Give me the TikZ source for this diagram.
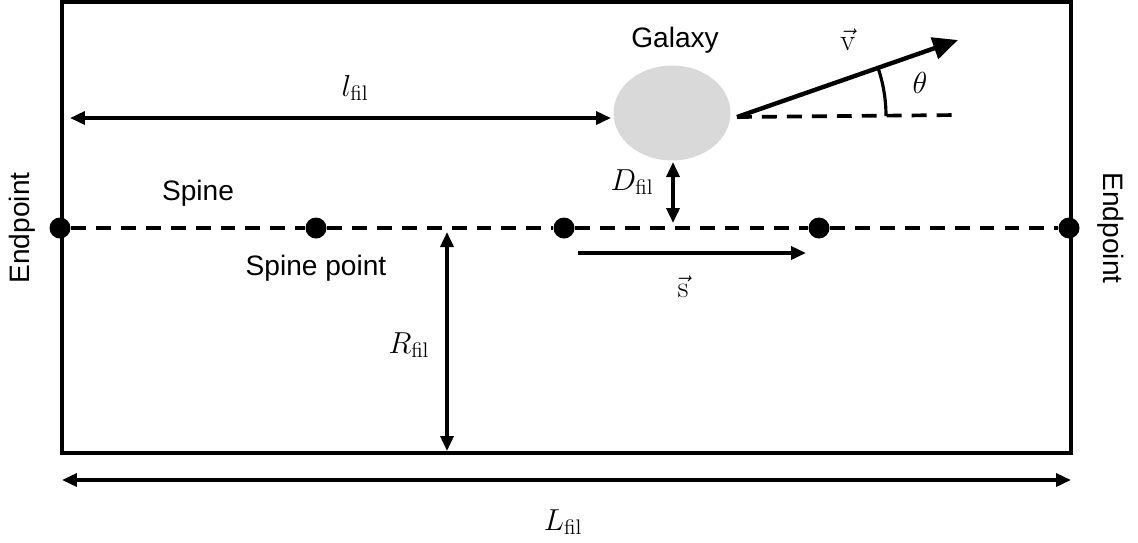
\documentclass[tikz,border=0pt]{standalone}
\usepackage[no-math]{fontspec}
\setmainfont{Liberation Sans}
\usetikzlibrary{arrows.meta,calc,positioning,shapes.geometric}
\definecolor{Ink}{HTML}{000000}
\definecolor{Cloud}{HTML}{D9D9D9}
\tikzset{
  spinept/.style={
    circle, fill=Ink, minimum size=0.42cm, inner sep=0pt
  },
  galaxy/.style={
    ellipse, fill=Cloud, minimum width=2.34cm, minimum height=1.9cm,
    inner sep=0pt
  },
  txt/.style={font=\fontsize{16}{18}\selectfont, inner sep=1pt},
  mlbl/.style={font=\fontsize{18}{20}\selectfont, inner sep=1pt},
  measure/.style={{Triangle[length=3mm,width=2.6mm]}-{Triangle[length=3mm,width=2.6mm]},
    line width=2pt, draw=Ink},
  dirflow/.style={-{Triangle[length=3mm,width=2.6mm]}, line width=2pt, draw=Ink},
  velflow/.style={-{Triangle[length=5mm,width=4.4mm]}, line width=2.5pt, draw=Ink},
  spinedash/.style={line width=2.1pt, dash pattern=on 8.5pt off 5.7pt, draw=Ink}
}

\begin{document}
\begin{tikzpicture}[x=0.02cm,y=-0.02cm]
  \useasboundingbox (0,0) rectangle (1138,542);
  % filament box
  \draw[line width=2.2pt] (62,2) rectangle (1071,453);
  % spine
  \node[spinept] (end1) at (60,228) {};
  \node[spinept] (sp1) at (316,228) {};
  \node[spinept] (sp2) at (564,228) {};
  \node[spinept] (sp3) at (819,228) {};
  \node[spinept] (end2) at (1069,228) {};
  \draw[spinedash] (end1) -- (sp1) -- (sp2) -- (sp3) -- (end2);
  \node[txt] (spine) at (198,193) {Spine};
  \node[txt] (spinept) at (316,268) {Spine point};
  \node[txt,rotate=90] (endl) at (22,228) {Endpoint};
  \node[txt,rotate=-90] (endr) at (1111,228) {Endpoint};
  % galaxy and velocity
  \node[galaxy] (gal) at (672,113) {};
  \node[txt] (galtxt) at (675,40) {Galaxy};
  \coordinate (vstart) at (737,117);
  \coordinate (vend) at (958,40);
  \coordinate (refend) at (958,115);
  \draw[spinedash] (vstart) -- (refend);
  \draw[velflow] (vstart) -- (vend);
  \draw[line width=1.8pt] (886,116) arc[start angle=0,end angle=-19.5,radius=149];
  \node[mlbl] (vlbl) at (848,40) {$\vec{\mathrm{v}}$};
  \node[mlbl] (theta) at (920,83) {$\theta$};
  % lengths
  \coordinate (lfilA) at (70,118);
  \coordinate (lfilB) at (611,118);
  \draw[measure] (lfilA) -- (lfilB);
  \node[mlbl] (lfil) at (355,88) {$l_{\mathrm{fil}}$};
  \coordinate (dfilA) at (673,162);
  \coordinate (dfilB) at (673,223);
  \draw[measure] (dfilA) -- (dfilB);
  \node[mlbl] (dfil) at (632,182) {$D_{\mathrm{fil}}$};
  \coordinate (sA) at (578,253);
  \coordinate (sB) at (806,253);
  \draw[dirflow] (sA) -- (sB);
  \node[mlbl] (svec) at (683,287) {$\vec{\mathrm{s}}$};
  \coordinate (rfilA) at (447,232);
  \coordinate (rfilB) at (447,451);
  \draw[measure] (rfilA) -- (rfilB);
  \node[mlbl] (rfil) at (409,345) {$R_{\mathrm{fil}}$};
  \coordinate (LfilA) at (62,480);
  \coordinate (LfilB) at (1071,480);
  \draw[measure] (LfilA) -- (LfilB);
  \node[mlbl] (Lfil) at (563,522) {$L_{\mathrm{fil}}$};
\end{tikzpicture}
\end{document}
